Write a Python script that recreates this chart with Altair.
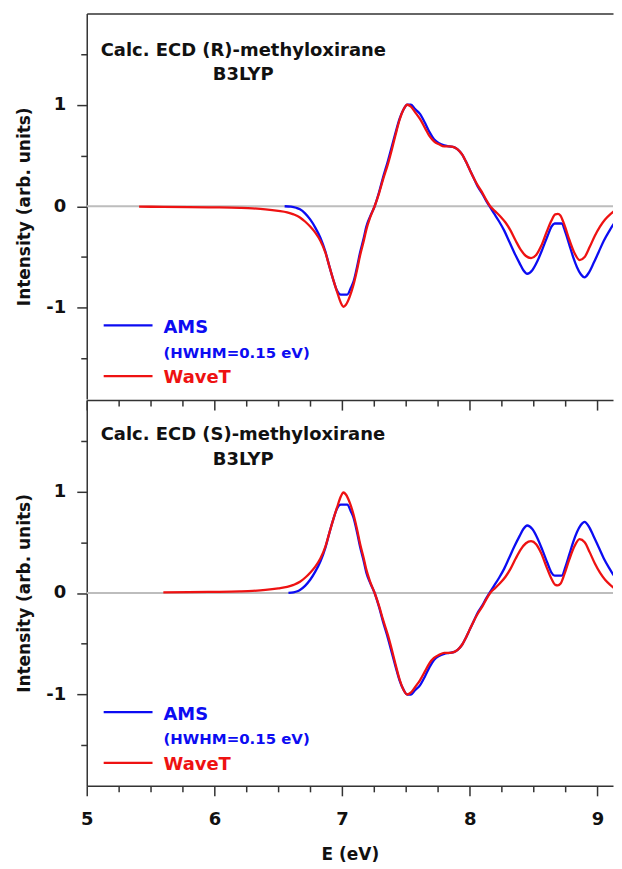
import altair as alt
import pandas as pd

# ---------------- data ----------------
E_R_AMS = [6.55, 6.60, 6.64, 6.67, 6.71, 6.75, 6.79, 6.83, 6.87, 6.90, 6.93, 6.96, 6.99, 7.04,
           7.07, 7.09, 7.12, 7.14, 7.17, 7.19, 7.22, 7.255, 7.29, 7.32, 7.36, 7.39, 7.42, 7.45,
           7.48, 7.51, 7.54, 7.57, 7.61, 7.65, 7.685, 7.72, 7.76, 7.80, 7.84, 7.88, 7.905, 7.94,
           7.97, 8.00, 8.03, 8.06, 8.10, 8.13, 8.155, 8.19, 8.23, 8.27, 8.31, 8.35, 8.39, 8.42,
           8.45, 8.49, 8.53, 8.57, 8.61, 8.64, 8.665, 8.72, 8.75, 8.78, 8.81, 8.84, 8.87, 8.90,
           8.93, 8.97, 9.01, 9.05, 9.09, 9.13, 9.18]
I_R_AMS = [0.0, -0.004, -0.015, -0.03, -0.07, -0.13, -0.21, -0.31, -0.45, -0.59, -0.72, -0.83, -0.87, -0.87,
           -0.80, -0.74, -0.58, -0.46, -0.31, -0.20, -0.10, 0.0, 0.14, 0.28, 0.45, 0.59, 0.73, 0.86,
           0.95, 1.0, 1.0, 0.96, 0.91, 0.82, 0.73, 0.66, 0.62, 0.60, 0.59, 0.58, 0.56, 0.51,
           0.44, 0.36, 0.28, 0.20, 0.12, 0.05, 0.0, -0.07, -0.15, -0.24, -0.35, -0.46, -0.56, -0.63,
           -0.665, -0.63, -0.54, -0.42, -0.29, -0.20, -0.17, -0.17, -0.26, -0.38, -0.50, -0.60, -0.67, -0.70,
           -0.66, -0.56, -0.45, -0.34, -0.25, -0.17, -0.11]

E_R_WAVET = [5.41, 5.6, 5.8, 6.0, 6.2, 6.3, 6.4, 6.5, 6.57, 6.62, 6.67, 6.71, 6.75, 6.79, 6.83,
             6.87, 6.90, 6.93, 6.96, 6.99, 7.01, 7.03, 7.06, 7.09, 7.12, 7.14, 7.17, 7.19, 7.22,
             7.255, 7.29, 7.32, 7.36, 7.39, 7.42, 7.45, 7.48, 7.51, 7.54, 7.57, 7.61, 7.65, 7.685,
             7.72, 7.76, 7.80, 7.84, 7.88, 7.905, 7.94, 7.97, 8.00, 8.03, 8.06, 8.10, 8.13, 8.16,
             8.20, 8.24, 8.28, 8.32, 8.36, 8.40, 8.44, 8.48, 8.52, 8.56, 8.60, 8.64, 8.67, 8.69,
             8.71, 8.74, 8.78, 8.82, 8.86, 8.90, 8.94, 8.98, 9.02, 9.06, 9.10, 9.14, 9.18]
I_R_WAVET = [-0.004, -0.006, -0.008, -0.011, -0.016, -0.021, -0.03, -0.045, -0.06, -0.08, -0.11, -0.15, -0.20, -0.26, -0.34,
             -0.46, -0.59, -0.72, -0.84, -0.95, -0.99, -0.97, -0.89, -0.77, -0.61, -0.49, -0.34, -0.23, -0.11,
             0.0, 0.13, 0.26, 0.42, 0.56, 0.71, 0.85, 0.95, 1.0, 0.98, 0.93, 0.86, 0.77, 0.69,
             0.64, 0.61, 0.59, 0.59, 0.58, 0.56, 0.51, 0.44, 0.36, 0.28, 0.21, 0.13, 0.06, 0.0,
             -0.05, -0.10, -0.16, -0.24, -0.34, -0.43, -0.49, -0.51, -0.48, -0.39, -0.26, -0.14, -0.08, -0.075,
             -0.09, -0.18, -0.33, -0.46, -0.53, -0.50, -0.40, -0.29, -0.20, -0.13, -0.08, -0.04, -0.01]

E_S_AMS = [6.58, 6.62, 6.65, 6.67, 6.71, 6.75, 6.79, 6.83, 6.87, 6.90, 6.93, 6.96, 6.99, 7.04,
           7.07, 7.09, 7.12, 7.14, 7.17, 7.19, 7.22, 7.255, 7.29, 7.32, 7.36, 7.39, 7.42, 7.45,
           7.48, 7.51, 7.54, 7.57, 7.61, 7.65, 7.685, 7.72, 7.76, 7.80, 7.84, 7.88, 7.905, 7.94,
           7.97, 8.00, 8.03, 8.06, 8.10, 8.13, 8.155, 8.19, 8.23, 8.27, 8.31, 8.35, 8.39, 8.42,
           8.45, 8.49, 8.53, 8.57, 8.61, 8.64, 8.665, 8.72, 8.75, 8.78, 8.81, 8.84, 8.87, 8.90,
           8.93, 8.97, 9.01, 9.05, 9.09, 9.13, 9.18]
I_S_AMS = [0.0, 0.006, 0.017, 0.03, 0.07, 0.13, 0.21, 0.31, 0.45, 0.59, 0.72, 0.83, 0.87, 0.87,
           0.80, 0.74, 0.58, 0.46, 0.31, 0.20, 0.10, 0.0, -0.14, -0.28, -0.45, -0.59, -0.73, -0.86,
           -0.95, -1.0, -1.0, -0.96, -0.91, -0.82, -0.73, -0.66, -0.62, -0.60, -0.59, -0.58, -0.56, -0.51,
           -0.44, -0.36, -0.28, -0.20, -0.12, -0.05, 0.0, 0.07, 0.15, 0.24, 0.35, 0.46, 0.56, 0.63,
           0.665, 0.63, 0.54, 0.42, 0.29, 0.20, 0.17, 0.17, 0.26, 0.38, 0.50, 0.60, 0.67, 0.70,
           0.66, 0.56, 0.45, 0.34, 0.25, 0.17, 0.11]

E_S_WAVET = [5.6, 5.8, 6.0, 6.2, 6.3, 6.4, 6.5, 6.57, 6.62, 6.67, 6.71, 6.75, 6.79, 6.83,
             6.87, 6.90, 6.93, 6.96, 6.99, 7.01, 7.03, 7.06, 7.09, 7.12, 7.14, 7.17, 7.19, 7.22,
             7.255, 7.29, 7.32, 7.36, 7.39, 7.42, 7.45, 7.48, 7.51, 7.54, 7.57, 7.61, 7.65, 7.685,
             7.72, 7.76, 7.80, 7.84, 7.88, 7.905, 7.94, 7.97, 8.00, 8.03, 8.06, 8.10, 8.13, 8.16,
             8.20, 8.24, 8.28, 8.32, 8.36, 8.40, 8.44, 8.48, 8.52, 8.56, 8.60, 8.64, 8.67, 8.69,
             8.71, 8.74, 8.78, 8.82, 8.86, 8.90, 8.94, 8.98, 9.02, 9.06, 9.10, 9.14, 9.18]
I_S_WAVET = [0.006, 0.008, 0.011, 0.016, 0.021, 0.03, 0.045, 0.06, 0.08, 0.11, 0.15, 0.20, 0.26, 0.34,
             0.46, 0.59, 0.72, 0.84, 0.95, 0.99, 0.97, 0.89, 0.77, 0.61, 0.49, 0.34, 0.23, 0.11,
             0.0, -0.13, -0.26, -0.42, -0.56, -0.71, -0.85, -0.95, -1.0, -0.98, -0.93, -0.86, -0.77, -0.69,
             -0.64, -0.61, -0.59, -0.59, -0.58, -0.56, -0.51, -0.44, -0.36, -0.28, -0.21, -0.13, -0.06, 0.0,
             0.05, 0.10, 0.16, 0.24, 0.34, 0.43, 0.49, 0.51, 0.48, 0.39, 0.26, 0.14, 0.08, 0.075,
             0.09, 0.18, 0.33, 0.46, 0.53, 0.50, 0.40, 0.29, 0.20, 0.13, 0.08, 0.04, 0.01]

SERIES = ["AMS", "WaveT"]
LEGEND_NOTE = "(HWHM=0.15 eV)"
PANEL_TITLES = ["Calc. ECD (R)-methyloxirane", "Calc. ECD (S)-methyloxirane"]
METHOD = "B3LYP"
X_TITLE = "E (eV)"
Y_TITLE = "Intensity (arb. units)"
X_MAJOR = [5, 6, 7, 8, 9]
X_MINOR = [5.25, 5.5, 5.75, 6.25, 6.5, 6.75, 7.25, 7.5, 7.75, 8.25, 8.5, 8.75]
Y_MAJOR = [-1, 0, 1]
Y_MINOR = [-1.5, -0.5, 0.5, 1.5]
X_DOMAIN = [5, 9.122]
Y_DOMAIN = [-1.9, 1.9]

# ---------------- styling ----------------
FONT = "DejaVu Sans"
BLUE = "#0c0cf2"
RED = "#ee1212"
FRAME = "#333333"
ZERO = "#bdbdbd"
W, H = 528, 387

xs = alt.Scale(domain=X_DOMAIN, nice=False, zero=False)
ys = alt.Scale(domain=Y_DOMAIN, nice=False, zero=False)

one = pd.DataFrame({"k": [0]})


def df_of(E, I):
    return pd.DataFrame({"E": E, "I": I})


def curve(df, color):
    return alt.Chart(df).mark_line(color=color, strokeWidth=2.3, interpolate="monotone", clip=True).encode(
        x=alt.X("E:Q", scale=xs, axis=None),
        y=alt.Y("I:Q", scale=ys, axis=None),
        order=alt.Order("E:Q"),
    )


def carrier(df, xaxis, yaxis):
    return alt.Chart(df).mark_point(opacity=0, size=1, clip=True).encode(
        x=alt.X("E:Q", scale=xs, axis=xaxis),
        y=alt.Y("I:Q", scale=ys, axis=yaxis),
    )


def text_at(s, x, y, color, size, align="left"):
    return alt.Chart(pd.DataFrame({"t": [s]})).mark_text(
        font=FONT, fontSize=size, fontWeight="bold", color=color, align=align, baseline="alphabetic"
    ).encode(text="t:N", x=alt.value(x), y=alt.value(y))


def seg(color, x1, x2, y):
    return alt.Chart(one).mark_rule(color=color, strokeWidth=2.2).encode(
        x=alt.value(x1), x2=alt.value(x2), y=alt.value(y))


def y_major():
    return alt.Axis(orient="left", values=Y_MAJOR, tickSize=10, tickWidth=1.5, tickColor=FRAME,
                    domain=True, domainColor=FRAME, domainWidth=1.5, grid=False,
                    labelFont=FONT, labelFontSize=18, labelFontWeight="bold", labelColor="#111111",
                    labelPadding=11, labelExpr="toString(datum.value)",
                    title=Y_TITLE, titleFont=FONT, titleFontSize=17, titleFontWeight="bold",
                    titleColor="#111111", titlePadding=12)


def y_minor():
    return alt.Axis(orient="left", values=Y_MINOR, tickSize=6, tickWidth=1.5, tickColor=FRAME,
                    domain=False, labels=False, grid=False, title=None)


def x_border(orient):
    return alt.Axis(orient=orient, domain=True, domainColor=FRAME, domainWidth=1.5,
                    ticks=False, labels=False, grid=False, title=None)


def x_inward(values, size):
    return alt.Axis(orient="top", offset=-size, values=values, tickSize=size, tickWidth=1.5,
                    tickColor=FRAME, domain=False, labels=False, grid=False, title=None)


x_bottom_major = alt.Axis(orient="bottom", values=X_MAJOR, tickSize=10, tickWidth=1.5, tickColor=FRAME,
                          domain=True, domainColor=FRAME, domainWidth=1.5, grid=False,
                          labelFont=FONT, labelFontSize=18, labelFontWeight="bold", labelColor="#111111",
                          labelPadding=15, labelFlush=False,
                          title=X_TITLE, titleFont=FONT, titleFontSize=17, titleFontWeight="bold",
                          titleColor="#111111", titlePadding=18)
x_bottom_minor = alt.Axis(orient="bottom", values=X_MINOR, tickSize=6, tickWidth=1.5, tickColor=FRAME,
                          domain=False, labels=False, grid=False, title=None)


def panel(E_a, I_a, E_w, I_w, title, ty, my, bottom):
    d_a = df_of(E_a, I_a)
    d_w = df_of(E_w, I_w)
    zero = alt.Chart(one).mark_rule(color=ZERO, strokeWidth=2).encode(
        y=alt.Y(datum=0, scale=ys, axis=None))
    layers = [zero, curve(d_a, BLUE), curve(d_w, RED)]
    if bottom:
        layers += [
            carrier(d_a, x_border("top"), y_major()),
            carrier(d_a, x_inward(X_MAJOR, 10), y_minor()),
            carrier(d_a, x_inward(X_MINOR, 6), None),
            carrier(d_a, x_bottom_major, None),
            carrier(d_a, x_bottom_minor, None),
        ]
    else:
        layers += [
            carrier(d_a, x_border("top"), y_major()),
            carrier(d_a, None, y_minor()),
        ]
    layers += [
        text_at(title, 14, ty, "#111111", 18),
        text_at(METHOD, 157, my, "#111111", 18, align="center"),
        seg(BLUE, 17, 66, 313),
        text_at(SERIES[0], 77, 320.5, BLUE, 18),
        text_at(LEGEND_NOTE, 77, 345.5, BLUE, 15),
        seg(RED, 17, 66, 364),
        text_at(SERIES[1], 77, 371, RED, 18),
    ]
    return alt.layer(*layers).resolve_axis(x="independent", y="independent").properties(width=W, height=H)


top = panel(E_R_AMS, I_R_AMS, E_R_WAVET, I_R_WAVET, PANEL_TITLES[0], 42.5, 67, False)
bot = panel(E_S_AMS, I_S_AMS, E_S_WAVET, I_S_WAVET, PANEL_TITLES[1], 40.5, 65.5, True)

chart = alt.vconcat(top, bot, spacing=0).configure_view(stroke=None).configure_axis(grid=False).properties(
    padding={"left": 8, "top": 4, "right": 0, "bottom": 0})

chart.save("out.html", embed_options={"renderer": "svg", "actions": False})
